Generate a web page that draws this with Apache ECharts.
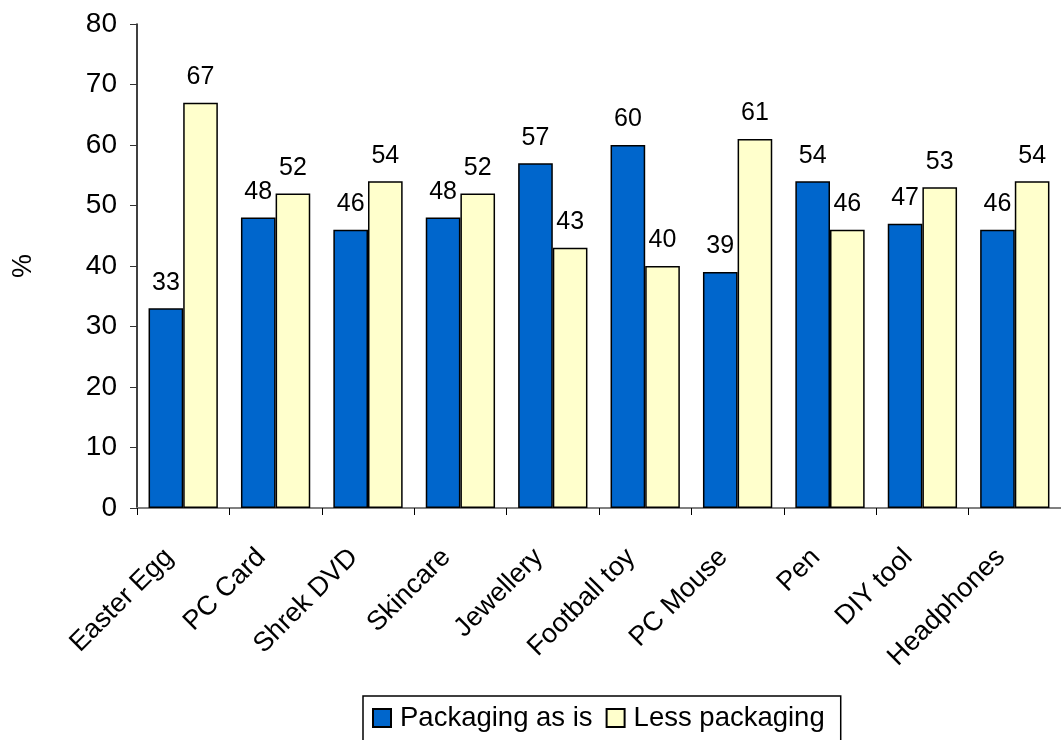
<!DOCTYPE html>
<html>
<head>
<meta charset="utf-8">
<style>
  html, body { margin: 0; padding: 0; background: #fff; }
  #chart { width: 1061px; height: 740px; }
</style>
<script src="https://cdn.jsdelivr.net/npm/echarts@6/dist/echarts.min.js"></script>
</head>
<body>
<div id="chart"></div>
<script>
// Products tested and the share of respondents preferring each option
const categories = ['Easter Egg', 'PC Card', 'Shrek DVD', 'Skincare', 'Jewellery',
  'Football toy', 'PC Mouse', 'Pen', 'DIY tool', 'Headphones'];
const packagingAsIs = [33, 48, 46, 48, 57, 60, 39, 54, 47, 46];
const lessPackaging = [67, 52, 54, 52, 43, 40, 61, 46, 53, 54];
const yTicks = { min: 0, max: 80, interval: 10 };

const FONT = 'Liberation Sans, Arial, sans-serif';

const chart = echarts.init(document.getElementById('chart'), null, { renderer: 'canvas' });

const barLabel = {
  show: true,
  position: 'top',
  distance: 13,
  color: '#000',
  fontFamily: FONT,
  fontSize: 25
};

chart.setOption({
  animation: false,
  backgroundColor: '#fff',
  grid: { left: 137, right: -5, top: 24, bottom: 232, containLabel: false },
  legend: {
    left: 363,
    top: 696,
    orient: 'horizontal',
    borderColor: '#000',
    borderWidth: 1.5,
    padding: [8, 16, 14, 9],
    itemGap: 13,
    itemWidth: 18,
    itemHeight: 18,
    icon: 'rect',
    textStyle: { color: '#000', fontFamily: FONT, fontSize: 27.5, padding: [0, 0, 0, 4] },
    data: ['Packaging as is', 'Less packaging']
  },
  xAxis: {
    type: 'category',
    data: categories,
    boundaryGap: true,
    axisLine: { show: true, lineStyle: { color: '#808080', width: 2 } },
    axisTick: { show: true, length: 7, inside: false, lineStyle: { color: '#000', width: 1 } },
    axisLabel: {
      rotate: 45,
      margin: 31,
      interval: 0,
      color: '#000',
      fontFamily: FONT,
      fontSize: 27,
      padding: [0, 20, 0, 0]
    },
    splitLine: { show: false }
  },
  yAxis: {
    type: 'value',
    min: yTicks.min,
    max: yTicks.max,
    interval: yTicks.interval,
    name: '%',
    nameLocation: 'middle',
    nameRotate: 90,
    nameGap: 100,
    nameTextStyle: { color: '#000', fontFamily: FONT, fontSize: 27 },
    axisLine: { show: true, lineStyle: { color: '#000', width: 1.5 } },
    axisTick: { show: true, length: 7, inside: false, lineStyle: { color: '#333', width: 1 } },
    axisLabel: { margin: 20, color: '#000', fontFamily: FONT, fontSize: 28 },
    splitLine: { show: false }
  },
  series: [
    {
      name: 'Packaging as is',
      type: 'bar',
      data: packagingAsIs,
      barGap: '0%',
      barCategoryGap: '25%',
      itemStyle: { color: '#0066CC', borderColor: '#000', borderWidth: 1.5 },
      label: barLabel
    },
    {
      name: 'Less packaging',
      type: 'bar',
      data: lessPackaging,
      itemStyle: { color: '#FFFFCC', borderColor: '#000', borderWidth: 1.5 },
      label: barLabel
    }
  ]
});
</script>
</body>
</html>
